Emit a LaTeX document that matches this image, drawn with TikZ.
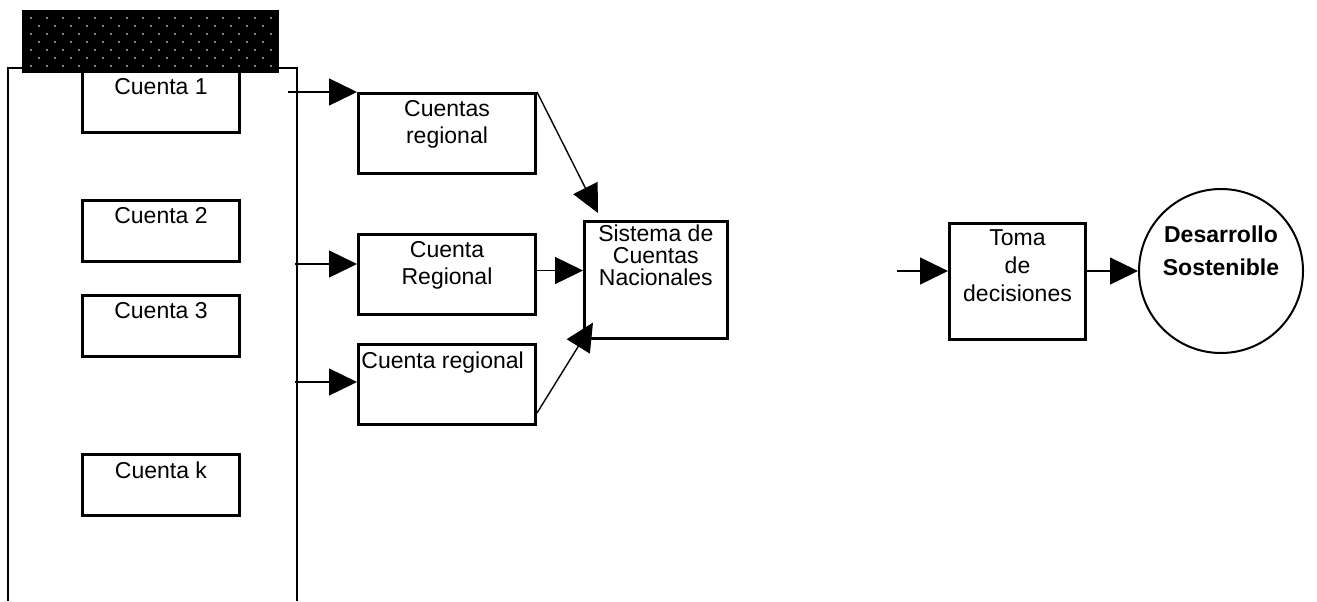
\documentclass[tikz,border=0pt]{standalone}
\usepackage{fontspec}
\setmainfont{Liberation Sans}
\usetikzlibrary{arrows.meta, positioning, calc}

\begin{document}
\begin{tikzpicture}[x=0.5pt, y=-0.5pt,
  font=\fontsize{11.5}{13.5}\selectfont,
  acct/.style={draw, line width=1.5pt, minimum width=78.5pt, minimum height=30.5pt, inner sep=0pt, anchor=north west},
  regbox/.style={draw, line width=1.5pt, minimum width=88.5pt, minimum height=40pt, inner sep=0pt, anchor=north west},
  bigbox/.style={draw, line width=1.3pt, inner sep=0pt, anchor=north west},
  toptxt/.style={align=center, inner ysep=4pt, inner xsep=0pt},
  flow/.style={line width=0.7pt, -{Triangle[length=14pt, width=13.5pt]}},
  hdr/.style={fill=black, minimum width=128.5pt, minimum height=31.5pt, anchor=north west, inner sep=0pt}
]
  \useasboundingbox (0,0) rectangle (1317,601);

  % columna de cuentas
  \draw[line width=1pt] (8,601) -- (8,68) -- (297,68) -- (297,601);
  \node[acct] (c1) at (81,70) {};
  \node[acct] (c2) at (81,199) {};
  \node[acct] (c3) at (81,294) {};
  \node[acct] (ck) at (81,453) {};
  \node[toptxt, below=0pt of c1.north] (c1t) {Cuenta 1};
  \node[toptxt, below=0pt of c2.north] (c2t) {Cuenta 2};
  \node[toptxt, below=0pt of c3.north] (c3t) {Cuenta 3};
  \node[toptxt, below=0pt of ck.north] (ckt) {Cuenta k};

  % cabecera punteada
  \node[hdr] (head) at (22,10) {};
  \foreach \i in {0,...,6}
    \foreach \j in {0,...,15} {
      \pgfmathsetmacro{\dx}{31 + 16*\j + 8*mod(\i,2)}
      \ifdim \dx pt < 276pt
        \fill[white] (\dx, 18 + 8*\i) circle (0.45pt);
      \fi
    }

  % cuentas regionales
  \node[regbox] (r1) at (357,92) {};
  \node[regbox] (r2) at (357,233) {};
  \node[regbox] (r3) at (357,343) {};
  \node[toptxt, below=0pt of r1.north] (r1t) {Cuentas\\regional};
  \node[toptxt, below=0pt of r2.north] (r2t) {Cuenta\\Regional};
  \node[anchor=north west, inner xsep=2pt, inner ysep=4pt] (r3t) at (r3.north west) {Cuenta regional};

  % sistema y decisiones
  \node[bigbox, minimum width=71.5pt, minimum height=58.5pt] (sis) at (583,220) {};
  \node[toptxt, inner ysep=2pt, font=\fontsize{11.5}{11}\selectfont, below=0pt of sis.north] (sist) {Sistema de\\Cuentas\\Nacionales};
  \node[bigbox, line width=1.5pt, minimum width=68pt, minimum height=58pt] (tom) at (948,222) {};
  \node[toptxt, inner ysep=3.5pt, font=\fontsize{11.5}{14}\selectfont, below=0pt of tom.north] (tomt) {Toma\\de\\decisiones};
  \node[draw, circle, line width=1pt, minimum size=82pt, inner sep=0pt] (des) at (1221,271) {};
  \node[align=center, font=\bfseries\fontsize{11.5}{16.5}\selectfont] (dest) at ($(des.center)+(0,-20)$) {Desarrollo\\Sostenible};

  % flechas
  \coordinate (o1) at (288,92);
  \coordinate (o2) at (295,264);
  \coordinate (o3) at (295,382);
  \coordinate (t0) at (897,271);
  \draw[flow] (o1) -- (r1.north west);
  \draw[flow] (o2) -- (o2 -| r2.west);
  \draw[flow] (o3) -- (o3 -| r3.west);
  \draw[flow] (r1.north east) -- ($(sis.north west)+(15,-7)$);
  \draw[flow] ($(r2.east)+(0,-4)$) -- ($(r2.east -| sis.west)+(0,-4)$);
  \draw[flow] ($(r3.south east)+(0,-13)$) -- ($(sis.south west)+(10,-17)$);
  \draw[flow] (t0) -- (t0 -| tom.west);
  \draw[flow] (tom.east |- des.west) -- (des.west);
\end{tikzpicture}
\end{document}
